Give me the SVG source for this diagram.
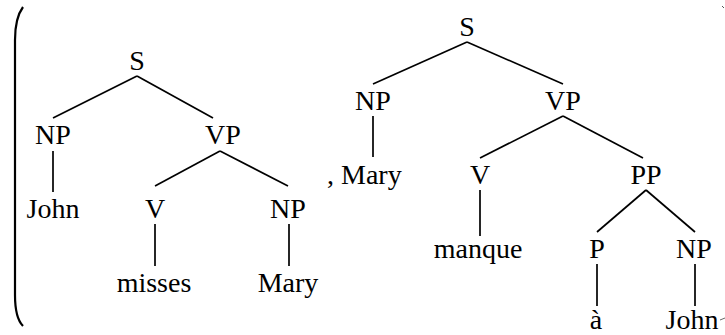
<svg xmlns="http://www.w3.org/2000/svg" width="725" height="335" viewBox="0 0 725 335">
  <style>
    .edge { stroke: #000; stroke-width: 1.7; fill: none; }
  </style>
  <rect width="725" height="335" fill="#fff"/>

  <!-- large opening parenthesis -->
  <path id="paren" d="M23,7 Q15,18 15,40 L15,295 Q15,318 23,326" stroke="#000" stroke-width="2.2" fill="none"/>

  <!-- connectors -->
  <g id="connectors" class="edge">
    <!-- tree 1 -->
    <line x1="137" y1="76" x2="53" y2="118"/>
    <line x1="137" y1="76" x2="213" y2="118"/>
    <line x1="53" y1="151" x2="53" y2="192"/>
    <line x1="220" y1="151" x2="155" y2="186"/>
    <line x1="220" y1="151" x2="288" y2="186"/>
    <line x1="155" y1="224" x2="155" y2="266"/>
    <line x1="289" y1="224" x2="289" y2="266"/>
    <!-- tree 2 -->
    <line x1="467" y1="42" x2="373" y2="84"/>
    <line x1="467" y1="42" x2="563" y2="84"/>
    <line x1="373" y1="116" x2="373" y2="157"/>
    <line x1="563" y1="116" x2="480" y2="158"/>
    <line x1="563" y1="116" x2="643" y2="158"/>
    <line x1="480" y1="190" x2="480" y2="236"/>
    <line x1="646" y1="190" x2="597" y2="232"/>
    <line x1="646" y1="190" x2="695" y2="232"/>
    <line x1="597" y1="264" x2="597" y2="306"/>
    <line x1="695" y1="264" x2="695" y2="306"/>
  </g>

  <g font-family="Liberation Serif" font-size="28" fill="#000" text-anchor="middle">
    <!-- tree 1 nodes -->
    <g id="t1-S"><text x="137" y="70">S</text></g>
    <g id="t1-NP"><text x="53" y="144">NP</text></g>
    <g id="t1-VP"><text x="223" y="144">VP</text></g>
    <g id="t1-John"><text x="53" y="218">John</text></g>
    <g id="t1-V"><text x="155" y="218">V</text></g>
    <g id="t1-NP2"><text x="288" y="218">NP</text></g>
    <g id="t1-misses"><text x="154" y="292">misses</text></g>
    <g id="t1-Mary"><text x="288" y="292">Mary</text></g>

    <!-- tree 2 nodes -->
    <g id="t2-S"><text x="467" y="36">S</text></g>
    <g id="t2-NP"><text x="373" y="110">NP</text></g>
    <g id="t2-VP"><text x="563" y="110">VP</text></g>
    <g id="t2-Mary"><text x="327" y="184" text-anchor="start">, Mary</text></g>
    <g id="t2-V"><text x="480" y="184">V</text></g>
    <g id="t2-PP"><text x="646" y="184">PP</text></g>
    <g id="t2-manque"><text x="478" y="258">manque</text></g>
    <g id="t2-P"><text x="597" y="258">P</text></g>
    <g id="t2-NP2"><text x="694" y="258">NP</text></g>
    <g id="t2-a"><text x="596" y="329">à</text></g>
    <g id="t2-John"><text x="692" y="329">John</text></g>
  </g>

  <!-- clipped glyph fragments at the right edge -->
  <line x1="722" y1="6" x2="724" y2="8" stroke="#555" stroke-width="1"/>
  <line x1="720" y1="320" x2="725" y2="318" stroke="#666" stroke-width="1"/>
</svg>
